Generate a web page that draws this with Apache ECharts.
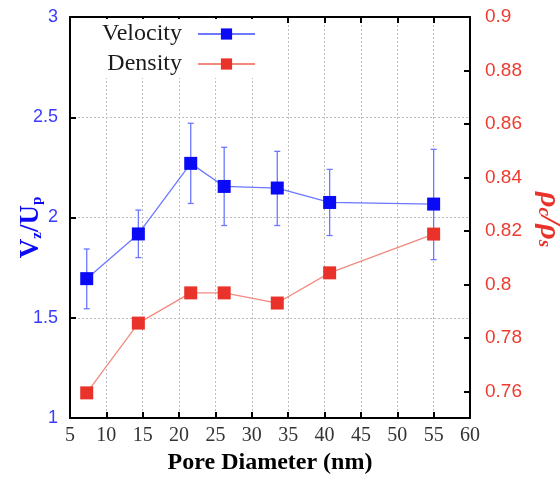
<!DOCTYPE html>
<html>
<head>
<meta charset="utf-8">
<script src="https://cdn.jsdelivr.net/npm/echarts@6/dist/echarts.min.js"></script>
<style>html,body{margin:0;padding:0;background:#fff}#c{width:560px;height:478px}</style>
</head>
<body>
<div id="c"></div>
<script>
// Data
const poreDiameter = [7.3, 14.4, 21.6, 26.2, 33.5, 40.7, 55];
const velocity = [1.695, 1.918, 2.27, 2.155, 2.147, 2.075, 2.067];
const velocityLow = [1.545, 1.80, 2.07, 1.96, 1.96, 1.91, 1.79];
const velocityHigh = [1.843, 2.037, 2.47, 2.35, 2.33, 2.24, 2.34];
const density = [0.7594, 0.7855, 0.7968, 0.7968, 0.793, 0.8043, 0.8188];
const xTicks = [5, 60, 5];            // min, max, interval
const leftTicks = [1, 3, 0.5];
const rightRange = [0.75, 0.9];
const rightTickValues = [0.76, 0.78, 0.8, 0.82, 0.84, 0.86, 0.88, 0.9];

const BLUE = '#0a0af5', BLUE_LINE = '#6b78ff', RED = '#e8322a', RED_LINE = '#f28a80';
const serif = 'Liberation Serif', sans = 'Liberation Sans';

const chart = echarts.init(document.getElementById('c'), null, {renderer: 'canvas'});
const velPts = poreDiameter.map((x, i) => [x, velocity[i]]);
const denPts = poreDiameter.map((x, i) => [x, density[i]]);
const errPts = poreDiameter.map((x, i) => [x, velocityLow[i], velocityHigh[i]]);

chart.setOption({
  animation: false,
  backgroundColor: '#fff',
  grid: {left: 70, top: 17, right: 90, bottom: 60, containLabel: false, outerBoundsMode: 'none'},
  legend: {
    data: ['Velocity', 'Density'],
    orient: 'vertical', align: 'right',
    right: 302, top: 19,
    padding: [3, 2, 2, 30],
    itemGap: 6, itemWidth: 57, itemHeight: 14,
    backgroundColor: '#fff',
    textStyle: {fontFamily: serif, fontSize: 24, color: '#1a1a1a', padding: [0, 11, 0, 0]}
  },
  xAxis: [{
    type: 'value', min: xTicks[0], max: xTicks[1], interval: xTicks[2],
    name: 'Pore Diameter (nm)', nameLocation: 'middle', nameGap: 33, nameMoveOverlap: false,
    nameTextStyle: {fontFamily: serif, fontWeight: 'bold', fontSize: 24, color: '#000'},
    axisLine: {lineStyle: {color: '#000', width: 2}},
    axisTick: {inside: true, length: 6, lineStyle: {color: '#000', width: 2}},
    axisLabel: {fontFamily: serif, fontSize: 20, color: '#333', margin: 8, showMinLabel: true, showMaxLabel: true},
    splitLine: {show: true, lineStyle: {color: '#bdbdbd', type: [2, 2], width: 1}}
  }, {
    type: 'value', position: 'top', min: xTicks[0], max: xTicks[1], interval: xTicks[2],
    axisLine: {lineStyle: {color: '#000', width: 2}},
    axisTick: {inside: true, length: 6, lineStyle: {color: '#000', width: 2}},
    axisLabel: {show: false}, splitLine: {show: false}
  }],
  yAxis: [{
    type: 'value', min: leftTicks[0], max: leftTicks[1], interval: leftTicks[2],
    name: '{a|V}{s|z}{a|/U}{s|p}', nameLocation: 'middle', nameGap: 25, nameRotate: 90, nameMoveOverlap: false,
    nameTextStyle: {
      color: BLUE, padding: [0, 20, 0, 0],
      rich: {
        a: {fontFamily: serif, fontWeight: 'bold', fontSize: 27, color: BLUE, lineHeight: 30, verticalAlign: 'bottom'},
        s: {fontFamily: serif, fontWeight: 'bold', fontSize: 15, color: BLUE, lineHeight: 30, verticalAlign: 'bottom', padding: [14, 0, 0, 0]}
      }
    },
    axisLine: {lineStyle: {color: '#000', width: 2}},
    axisTick: {inside: true, length: 6, lineStyle: {color: '#000', width: 2}},
    axisLabel: {fontFamily: sans, fontSize: 18, color: '#3b3bff', margin: 12},
    splitLine: {show: true, lineStyle: {color: '#bdbdbd', type: [2, 2], width: 1}}
  }, {
    type: 'value', position: 'right', min: rightRange[0], max: rightRange[1],
    name: '{a|ρ}{s|c}{a|/ρ}{s|s}', nameLocation: 'middle', nameGap: 64, nameRotate: -90, nameMoveOverlap: false,
    nameTextStyle: {
      color: RED, padding: [0, 0, 0, 4],
      rich: {
        a: {fontFamily: serif, fontWeight: 'bold', fontStyle: 'italic', fontSize: 30, color: RED, lineHeight: 32, verticalAlign: 'bottom'},
        s: {fontFamily: serif, fontWeight: 'bold', fontStyle: 'italic', fontSize: 19, color: RED, lineHeight: 32, verticalAlign: 'bottom', padding: [8, 0, 0, 0]}
      }
    },
    axisLine: {lineStyle: {color: '#000', width: 2}},
    axisTick: {inside: true, length: 6, customValues: rightTickValues, lineStyle: {color: '#000', width: 2}},
    axisLabel: {fontFamily: sans, fontSize: 19, color: '#ee3b2e', margin: 15, customValues: rightTickValues},
    splitLine: {show: false}
  }],
  series: [{
    type: 'custom', name: 'err', xAxisIndex: 0, yAxisIndex: 0, z: 1,
    data: errPts,
    renderItem: function (params, api) {
      const lo = api.coord([api.value(0), api.value(1)]);
      const hi = api.coord([api.value(0), api.value(2)]);
      const w = 3;
      const st = {stroke: BLUE_LINE, lineWidth: 1.3};
      return {type: 'group', children: [
        {type: 'line', shape: {x1: lo[0], y1: lo[1], x2: hi[0], y2: hi[1]}, style: st},
        {type: 'line', shape: {x1: lo[0] - w, y1: lo[1], x2: lo[0] + w, y2: lo[1]}, style: st},
        {type: 'line', shape: {x1: hi[0] - w, y1: hi[1], x2: hi[0] + w, y2: hi[1]}, style: st}
      ]};
    }
  }, {
    type: 'line', name: 'Velocity', xAxisIndex: 0, yAxisIndex: 0, z: 3,
    data: velPts, symbol: 'rect', symbolSize: 13,
    itemStyle: {color: BLUE}, lineStyle: {color: BLUE_LINE, width: 1.3}
  }, {
    type: 'line', name: 'Density', xAxisIndex: 0, yAxisIndex: 1, z: 4,
    data: denPts, symbol: 'rect', symbolSize: 13,
    itemStyle: {color: RED}, lineStyle: {color: RED_LINE, width: 1.3}
  }]
});
</script>
</body>
</html>
